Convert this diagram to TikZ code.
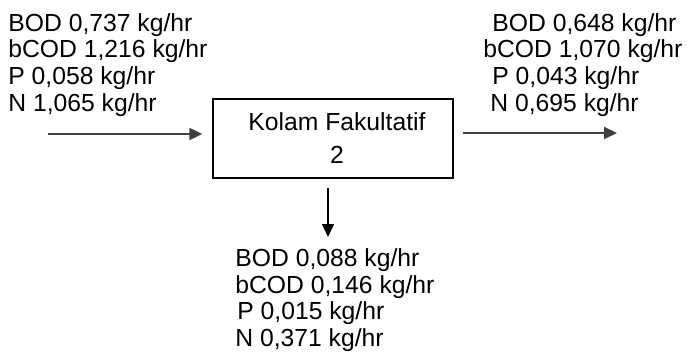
\documentclass[tikz,border=0pt]{standalone}
\usepackage{fontspec}
\setmainfont{Liberation Sans}
\usetikzlibrary{arrows.meta,positioning}

\begin{document}
\begin{tikzpicture}[x=0.5pt,y=-0.5pt,
  every node/.style={font=\fontsize{12.35}{13.35}\selectfont,inner sep=0pt},
  load/.style={align=left,anchor=north west},
  flow/.style={-{Triangle[length=6.5pt,width=6pt]},line width=1pt,black!75},
  >=Stealth]
\useasboundingbox (0,0) rectangle (688,353);
\node (pond) [draw,line width=0.65pt,minimum width=120pt,minimum height=39.5pt,align=center,font=\fontsize{12.35}{16.5}\selectfont] at (333,138.5) {\hspace*{4pt}Kolam Fakultatif\\\hspace*{4pt}2};
\node (inload) [load] at (8,13) {BOD 0,737 kg/hr\\bCOD 1,216 kg/hr\\P 0,058 kg/hr\\N 1,065 kg/hr};
\node (outload) [load] at (483,13) {\hspace*{4.5pt}BOD 0,648 kg/hr\\bCOD 1,070 kg/hr\\\hspace*{4.5pt}P 0,043 kg/hr\\\hspace*{3.5pt}N 0,695 kg/hr};
\node (sludge) [load] at (235,248) {BOD 0,088 kg/hr\\bCOD 0,146 kg/hr\\\hspace*{1pt}P 0,015 kg/hr\\N 0,371 kg/hr};
\coordinate (in) at (48,134);\coordinate (out) at (617,133);\coordinate (down) at (328,237);
\draw[flow] (in) -- (in -| pond.west) [shorten >=5pt];
\draw[flow] (out -| pond.east) -- (out) [shorten <=4.5pt];
\draw[flow,black,line width=0.8pt] (pond.south -| down) -- (down) [shorten <=4.5pt];
\end{tikzpicture}
\end{document}
